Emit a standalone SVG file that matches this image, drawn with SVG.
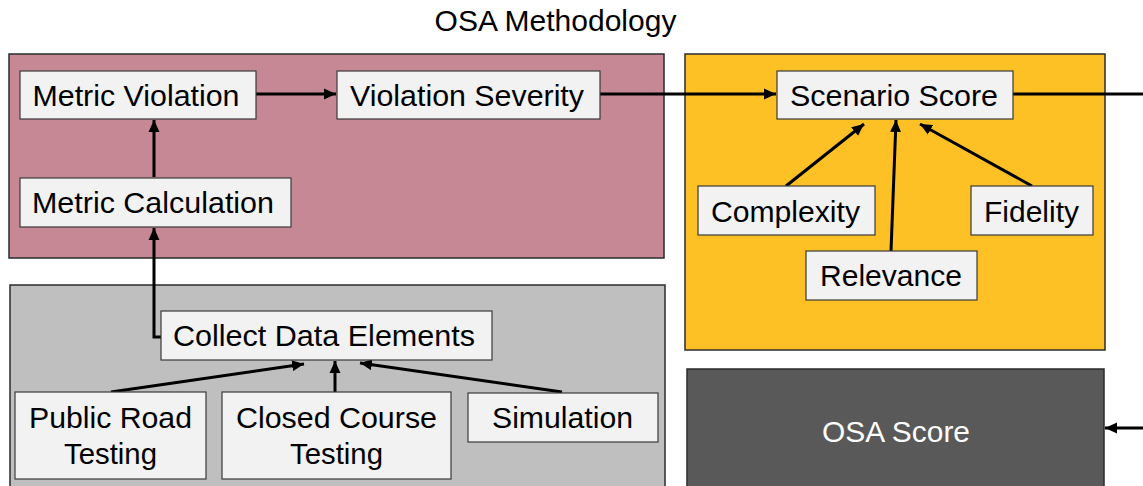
<svg xmlns="http://www.w3.org/2000/svg" width="1143" height="486" viewBox="0 0 1143 486">
  <defs>
    <marker id="arrow" markerUnits="userSpaceOnUse" markerWidth="13" markerHeight="13" viewBox="0 0 13 13" refX="12" refY="6.5" orient="auto">
      <path d="M0,1 L12,6.5 L0,12 Z" fill="#000"/>
    </marker>
    <style>
      .panel { stroke: #2b2b2b; stroke-width: 1.5; }
      .node rect { fill: #f2f2f2; stroke: #3a3a3a; stroke-width: 1.2; }
      text { font-family: "Liberation Sans", Arial, sans-serif; font-size: 29px; fill: #000; text-anchor: middle; }
      .title { font-size: 30px; }
      .light { fill: #ffffff; }
      .conn { fill: none; stroke: #000; stroke-width: 3; }
      .conn .arr { marker-end: url(#arrow); }
    </style>
  </defs>

  <rect width="1143" height="486" fill="#ffffff"/>

  <text class="title" x="555.5" y="31">OSA Methodology</text>

  <!-- background panels -->
  <g id="panel-metrics"><rect class="panel" x="9" y="54" width="655" height="204" fill="#c78895"/></g>
  <g id="panel-data"><rect class="panel" x="10" y="285" width="655" height="210" fill="#bfbfbf"/></g>
  <g id="panel-scenario"><rect class="panel" x="685" y="54" width="420" height="296" fill="#fdc125"/></g>
  <g id="osa-score"><rect class="panel" x="687" y="369" width="417" height="130" fill="#595959"/>
    <text class="light" x="896" y="442" textLength="148" lengthAdjust="spacingAndGlyphs">OSA Score</text></g>

  <!-- connectors -->
  <g id="connectors" class="conn">
    <line class="arr" x1="154" y1="177" x2="154" y2="120"/>
    <line class="arr" x1="256" y1="94" x2="336" y2="94"/>
    <line class="arr" x1="600" y1="94" x2="776" y2="94"/>
    <line x1="1013" y1="94" x2="1143" y2="94"/>
    <line class="arr" x1="1143" y1="428" x2="1105" y2="428"/>
    <line class="arr" x1="786" y1="186" x2="864" y2="124"/>
    <line class="arr" x1="891" y1="251" x2="896" y2="120"/>
    <line class="arr" x1="1032" y1="186" x2="920" y2="124"/>
    <polyline class="arr" points="161,337 154,337 154,228"/>
    <line class="arr" x1="111" y1="392" x2="304" y2="364"/>
    <line class="arr" x1="335" y1="392" x2="335" y2="361"/>
    <line class="arr" x1="562" y1="392" x2="360" y2="363"/>
  </g>

  <!-- nodes -->
  <g id="metric-violation" class="node"><rect x="20" y="71" width="236" height="48"/>
    <text x="136" y="105.5" textLength="207" lengthAdjust="spacingAndGlyphs">Metric Violation</text></g>
  <g id="violation-severity" class="node"><rect x="337" y="71" width="263" height="48"/>
    <text x="467" y="105.5" textLength="234" lengthAdjust="spacingAndGlyphs">Violation Severity</text></g>
  <g id="metric-calculation" class="node"><rect x="20" y="178" width="271" height="49"/>
    <text x="153" y="212.5" textLength="242" lengthAdjust="spacingAndGlyphs">Metric Calculation</text></g>
  <g id="scenario-score" class="node"><rect x="777" y="71" width="236" height="48"/>
    <text x="894" y="105.5" textLength="208" lengthAdjust="spacingAndGlyphs">Scenario Score</text></g>
  <g id="complexity" class="node"><rect x="698" y="186" width="177" height="49"/>
    <text x="785.5" y="221.5" textLength="149" lengthAdjust="spacingAndGlyphs">Complexity</text></g>
  <g id="fidelity" class="node"><rect x="971" y="186" width="122" height="49"/>
    <text x="1031.5" y="221.5" textLength="95" lengthAdjust="spacingAndGlyphs">Fidelity</text></g>
  <g id="relevance" class="node"><rect x="806" y="251" width="171" height="49"/>
    <text x="891" y="286" textLength="142" lengthAdjust="spacingAndGlyphs">Relevance</text></g>
  <g id="collect-data" class="node"><rect x="161" y="311" width="331" height="49"/>
    <text x="324" y="346" textLength="302" lengthAdjust="spacingAndGlyphs">Collect Data Elements</text></g>
  <g id="public-road" class="node"><rect x="15" y="392" width="191" height="87"/>
    <text x="110.5" y="428" textLength="163" lengthAdjust="spacingAndGlyphs">Public Road</text>
    <text x="110.5" y="464" textLength="93" lengthAdjust="spacingAndGlyphs">Testing</text></g>
  <g id="closed-course" class="node"><rect x="222" y="392" width="229" height="87"/>
    <text x="336.5" y="428" textLength="201" lengthAdjust="spacingAndGlyphs">Closed Course</text>
    <text x="336.5" y="464" textLength="93" lengthAdjust="spacingAndGlyphs">Testing</text></g>
  <g id="simulation" class="node"><rect x="468" y="393" width="190" height="49"/>
    <text x="562.5" y="428" textLength="141" lengthAdjust="spacingAndGlyphs">Simulation</text></g>
</svg>
